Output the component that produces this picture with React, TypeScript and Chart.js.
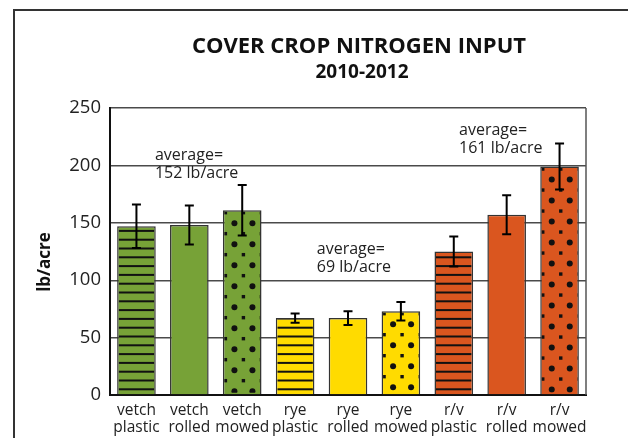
import React, { useEffect, useRef } from "react";
import { Chart, registerables } from "chart.js";

Chart.register(...registerables);

// ---- data ----
const categories: string[][] = [
  ["vetch", "plastic"], ["vetch", "rolled"], ["vetch", "mowed"],
  ["rye", "plastic"], ["rye", "rolled"], ["rye", "mowed"],
  ["r/v", "plastic"], ["r/v", "rolled"], ["r/v", "mowed"],
];
const values: number[] = [147, 148, 161, 67, 67, 73, 125, 157, 199];
const errors: number[] = [19, 17, 22, 4, 6, 8, 13, 17, 20];
const green = "#77A237";
const yellow = "#FFDB00";
const orange = "#DA561F";
const barColors: string[] = [green, green, green, yellow, yellow, yellow, orange, orange, orange];
const barPatterns: string[] = ["stripes", "none", "dots", "stripes", "none", "dots", "stripes", "none", "dots"];
const yMin = 0;
const yMax = 250;
const yStep = 50;
const titleLines: string[] = ["COVER CROP NITROGEN INPUT", "2010-2012"];
const yTitle = "lb/acre";
// annotation: x as fractional category index (left edge of text), y as value of first line
const annotationLines: string[][] = [
  ["average=", "152 lb/acre"],
  ["average=", "69 lb/acre"],
  ["average=", "161 lb/acre"],
];
const annotationX: number[] = [0.35, 3.41, 6.1];
const annotationY: number[] = [209, 127, 230.5];

const FONT = "'Open Sans', 'DejaVu Sans', sans-serif";

const decorPlugin = {
  id: "decor",
  beforeDraw(chart: any) {
    const ctx = chart.ctx;
    ctx.save();
    ctx.fillStyle = "#fff";
    ctx.fillRect(0, 0, chart.width, chart.height);
    // outer frame
    ctx.strokeStyle = "#333";
    ctx.lineWidth = 2;
    ctx.beginPath();
    ctx.moveTo(14, chart.height + 2);
    ctx.lineTo(14, 10);
    ctx.lineTo(chart.width + 2, 10);
    ctx.stroke();
    ctx.restore();
  },
  afterDatasetsDraw(chart: any) {
    const ctx = chart.ctx;
    const meta = chart.getDatasetMeta(0);
    const yScale = chart.scales.y;
    const area = chart.chartArea;
    ctx.save();
    meta.data.forEach((el: any, i: number) => {
      const p = el.getProps(["x", "y", "base", "width"], true);
      const bw = 1.5;
      const left = p.x - p.width / 2 + bw;
      const right = p.x + p.width / 2 - bw;
      const top = p.y + bw;
      const bottom = p.base - bw;
      const kind = barPatterns[i];
      ctx.save();
      ctx.beginPath();
      ctx.rect(left, top, right - left, bottom - top);
      ctx.clip();
      ctx.fillStyle = "#111";
      if (kind === "stripes") {
        const gap = 8.8;
        for (let yy = p.base - 5; yy > top - 3; yy -= gap) {
          ctx.fillRect(left, yy - 1, right - left, 2);
        }
      } else if (kind === "dots") {
        const tw = 18;
        const th = 21;
        const ox = left + 1;
        for (let ty = top + 1; ty < bottom + th; ty += th) {
          for (let tx = ox - tw; tx < right + tw; tx += tw) {
            // small square
            ctx.fillRect(tx - 1.7, ty - 1.7, 3.4, 3.4);
            // big dot
            ctx.beginPath();
            ctx.arc(tx + 9, ty + 10.5, 3, 0, Math.PI * 2);
            ctx.fill();
          }
        }
      }
      ctx.restore();
    });
    // error bars
    ctx.strokeStyle = "#000";
    ctx.lineWidth = 2;
    meta.data.forEach((el: any, i: number) => {
      const p = el.getProps(["x"], true);
      const yHi = yScale.getPixelForValue(values[i] + errors[i]);
      const yLo = yScale.getPixelForValue(values[i] - errors[i]);
      const cap = 4.5;
      ctx.beginPath();
      ctx.moveTo(p.x, yHi);
      ctx.lineTo(p.x, yLo);
      ctx.moveTo(p.x - cap, yHi);
      ctx.lineTo(p.x + cap, yHi);
      ctx.moveTo(p.x - cap, yLo);
      ctx.lineTo(p.x + cap, yLo);
      ctx.stroke();
    });
    // right border of plot
    ctx.strokeStyle = "#555";
    ctx.lineWidth = 1.5;
    ctx.beginPath();
    ctx.moveTo(area.right, area.top);
    ctx.lineTo(area.right, area.bottom);
    ctx.stroke();
    ctx.restore();
  },
  afterDraw(chart: any) {
    const ctx = chart.ctx;
    const area = chart.chartArea;
    const yScale = chart.scales.y;
    const catW = (area.right - area.left) / categories.length;
    ctx.save();
    // title
    ctx.fillStyle = "#111";
    ctx.textAlign = "center";
    ctx.textBaseline = "middle";
    ctx.font = `bold 22px ${FONT}`;
    ctx.fillText(titleLines[0], 359, 47);
    ctx.font = `bold 19px ${FONT}`;
    ctx.fillText(titleLines[1], 362, 73);
    // y title
    ctx.save();
    ctx.translate(45, 262);
    ctx.rotate(-Math.PI / 2);
    ctx.font = `bold 17px ${FONT}`;
    ctx.fillText(yTitle, 0, 0);
    ctx.restore();
    // annotations
    ctx.textAlign = "left";
    ctx.font = `16px ${FONT}`;
    ctx.fillStyle = "#222";
    annotationLines.forEach((lines, k) => {
      const x = area.left + (annotationX[k] + 0.5) * catW;
      const y0 = yScale.getPixelForValue(annotationY[k]);
      lines.forEach((t, j) => ctx.fillText(t, x, y0 + j * 18.5));
    });
    ctx.restore();
  },
};

export default function App() {
  const ref = useRef<HTMLCanvasElement | null>(null);
  useEffect(() => {
    if (!ref.current) return;
    const chart = new Chart(ref.current, {
      type: "bar",
      data: {
        labels: categories,
        datasets: [
          {
            data: values,
            backgroundColor: barColors,
            borderColor: "#333",
            borderWidth: 1.5,
            barPercentage: 0.73,
            categoryPercentage: 1,
          },
        ],
      },
      options: {
        responsive: false,
        animation: false,
        layout: { padding: { top: 108, right: 42, bottom: 0, left: 0 } },
        plugins: {
          legend: { display: false },
          title: { display: false },
          tooltip: { enabled: false },
        },
        scales: {
          x: {
            grid: { display: false, drawTicks: false },
            border: { display: true, color: "#111", width: 2 },
            ticks: {
              color: "#222",
              font: { family: FONT, size: 15.5, lineHeight: 1.08 },
              padding: 7,
              maxRotation: 0,
              autoSkip: false,
            },
            afterFit: (s: any) => { s.height = 43; },
          },
          y: {
            min: yMin,
            max: yMax,
            grid: { color: "#4a4a4a", lineWidth: 1.4, drawTicks: false },
            border: { display: true, color: "#111", width: 2 },
            ticks: {
              stepSize: yStep,
              color: "#222",
              font: { family: FONT, size: 18.5 },
              padding: 9,
            },
            afterFit: (s: any) => { s.width = 110; },
          },
        },
      },
      plugins: [decorPlugin],
    });
    return () => chart.destroy();
  }, []);
  return (
    <div style={{ position: "absolute", left: 0, top: 0, width: 628, height: 438 }}>
      <canvas ref={ref} width={628} height={438} style={{ width: 628, height: 438 }} />
    </div>
  );
}
